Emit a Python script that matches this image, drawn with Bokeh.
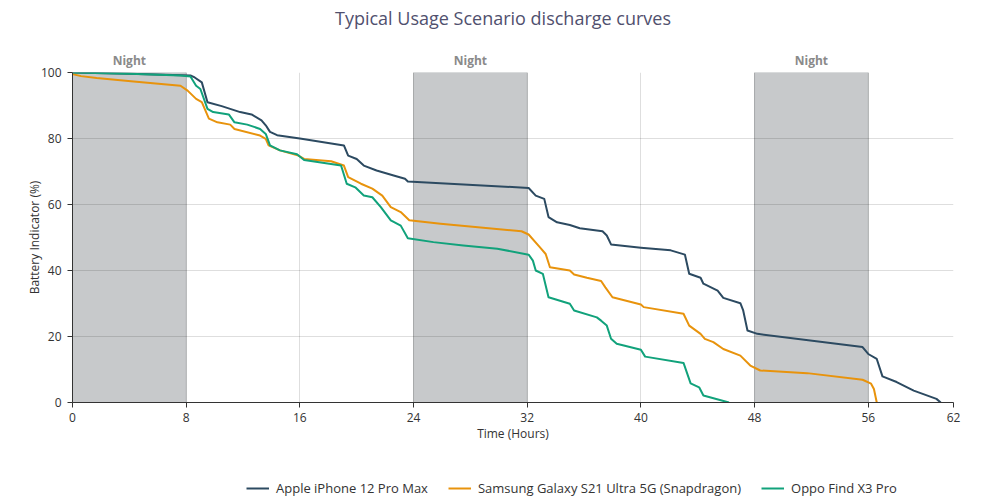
from bokeh.plotting import figure
from bokeh.models import BoxAnnotation, Legend, LegendItem, FixedTicker, Range1d, LinearAxis, Div
from bokeh.layouts import column
from bokeh.embed import file_html
from bokeh.resources import INLINE

# ---- data ----
apple_t = [0, 4, 8.3, 8.6, 9.1, 9.5, 10.5, 11.8, 12.6, 13.3, 13.6, 13.9, 14.4, 16.0, 19.1,
           19.4, 20.0, 20.5, 21.4, 22.6, 23.4, 23.6, 32.1, 32.6, 33.2, 33.5, 34.1, 35.0, 35.7,
           37.3, 37.6, 37.9, 40.0, 42.1, 43.1, 43.4, 44.2, 44.4, 45.4, 45.8, 47.0, 47.2, 47.5,
           48.2, 55.6, 56.0, 56.6, 57.0, 58.0, 59.2, 60.8, 61.1]
apple_v = [100, 99.6, 99.1, 98.5, 97, 91, 89.8, 88, 87.3, 85.5, 84, 82, 81, 80, 77.9,
           74.8, 73.8, 71.8, 70.3, 68.8, 67.8, 67, 65, 62.7, 61.7, 56.2, 54.6, 53.8, 52.8,
           51.9, 50.6, 47.9, 46.9, 46.1, 44.8, 39, 37.8, 36, 33.9, 31.7, 30.1, 27.9, 21.8,
           20.8, 16.8, 14.7, 13.2, 7.9, 6.2, 3.6, 1.1, 0]

samsung_t = [0, 0.6, 1.7, 4.3, 7.6, 8.1, 8.7, 9.1, 9.6, 10.2, 11.1, 11.4, 13.2, 13.6, 13.8,
             14.6, 15.9, 16.3, 18.2, 19.1, 19.4, 20.3, 21.1, 21.8, 22.4, 23.1, 23.7, 25.9, 31.6,
             32.1, 32.9, 33.3, 33.6, 35.0, 35.3, 36.2, 37.2, 37.5, 38.0, 40.0, 40.2, 43.0, 43.4,
             44.2, 44.5, 45.1, 45.8, 47.0, 47.7, 48.4, 51.7, 55.6, 56.2, 56.4, 56.6]
samsung_v = [99.5, 98.9, 98.3, 97.3, 96, 94.5, 92, 91, 86, 84.9, 84.2, 82.9, 80.9, 79.9, 77.9,
             76.4, 74.8, 73.8, 73.1, 71.8, 68.3, 66.3, 64.8, 62.7, 59.2, 57.7, 55.2, 54.2, 51.9,
             50.9, 47, 45, 41, 40, 38.8, 37.8, 36.8, 34.9, 31.9, 29.7, 28.9, 26.9, 23.3,
             20.8, 19.3, 18.3, 16.2, 14.2, 11.2, 9.7, 8.9, 6.9, 5.7, 4.1, 0]

oppo_t = [0, 4, 7.6, 8.3, 8.7, 9.0, 9.5, 9.9, 11.0, 11.4, 12.3, 13.2, 13.6, 13.9, 14.6,
          15.8, 16.3, 18.9, 19.3, 19.9, 20.5, 21.1, 21.7, 22.4, 23.1, 23.6, 25.4, 27.5, 29.9,
          32.1, 32.4, 32.6, 33.1, 33.5, 35.0, 35.3, 36.9, 37.2, 37.6, 37.9, 38.3, 40.0, 40.3,
          43.0, 43.5, 44.1, 44.4, 46.2]
oppo_v = [100, 99.6, 99.1, 98.8, 96, 95, 89, 88, 87.3, 84.9, 84.2, 82.9, 81.4, 77.9, 76.4,
          75.2, 73.5, 71.8, 66.3, 65.2, 62.7, 62.2, 59.2, 55.2, 53.6, 49.8, 48.6, 47.6, 46.6,
          44.8, 43, 40, 39, 31.9, 29.9, 27.9, 25.8, 24.8, 23.3, 19.3, 17.8, 16, 13.9,
          12, 5.8, 4.6, 2.1, 0]

series_names = ["Apple iPhone 12 Pro Max", "Samsung Galaxy S21 Ultra 5G (Snapdragon)", "Oppo Find X3 Pro"]
series_colors = ["#2c4a61", "#e8930c", "#11a27b"]

night_starts = [0, 24, 48]
night_ends = [8, 32, 56]
night_label = "Night"

x_ticks = [0, 8, 16, 24, 32, 40, 48, 56, 62]
y_ticks = [0, 20, 40, 60, 80, 100]

title_text = "Typical Usage Scenario discharge curves"
x_label = "Time (Hours)"
y_label = "Battery Indicator (%)"

FONT = "Open Sans"

title_div = Div(text=title_text, width=996, height=26,
                styles={"font-family": FONT, "font-size": "18px", "color": "#50506e",
                        "text-align": "center", "line-height": "26px", "width": "996px",
                        "white-space": "nowrap"})

p = figure(frame_width=881, frame_height=330, title=None,
           x_range=Range1d(0, 62), y_range=Range1d(0, 100),
           output_backend="svg", toolbar_location=None,
           min_border_left=72, min_border_right=43, min_border_top=36, min_border_bottom=50)

bottom_axis = p.below[0]
left_axis = p.left[0]

p.outline_line_color = None
p.background_fill_color = "white"

# night bands
for s, e in zip(night_starts, night_ends):
    p.add_layout(BoxAnnotation(left=s, right=e, fill_color="#bdbfc2", fill_alpha=0.85,
                               line_color="#a9abae", line_alpha=0.6, line_width=1, level="image"))

# "Night" labels via an axis above the frame
night_mid = [(s + e) / 2 for s, e in zip(night_starts, night_ends)]
top_axis = LinearAxis(ticker=FixedTicker(ticks=night_mid),
                      major_label_overrides={m: night_label for m in night_mid},
                      axis_line_color=None, major_tick_line_color=None,
                      minor_tick_line_color=None, major_tick_out=0, major_tick_in=0,
                      major_label_standoff=4, axis_label_standoff=0,
                      major_label_text_font=FONT, major_label_text_font_size="12px",
                      major_label_text_font_style="bold", major_label_text_color="#8a8a8a")
p.add_layout(top_axis, "above")

# grids
p.xgrid.ticker = FixedTicker(ticks=x_ticks)
p.ygrid.ticker = FixedTicker(ticks=y_ticks)
for g in (p.xgrid, p.ygrid):
    g.grid_line_color = "black"
    g.grid_line_alpha = 0.13
    g.grid_line_width = 1

# axes
bottom_axis.ticker = FixedTicker(ticks=x_ticks)
left_axis.ticker = FixedTicker(ticks=y_ticks)
for ax in (bottom_axis, left_axis):
    ax.axis_line_color = "#333333"
    ax.major_tick_line_color = "#333333"
    ax.major_tick_out = 5
    ax.major_tick_in = 0
    ax.minor_tick_line_color = None
    ax.major_label_text_font = FONT
    ax.major_label_text_font_size = "12px"
    ax.major_label_text_color = "#333333"
    ax.axis_label_text_font = FONT
    ax.axis_label_text_font_size = "12px"
    ax.axis_label_text_font_style = "normal"
    ax.axis_label_text_color = "#333333"
bottom_axis.axis_label = x_label
left_axis.axis_label = y_label
bottom_axis.axis_label_standoff = 0
left_axis.axis_label_standoff = -5
left_axis.major_label_standoff = 6

series_t = [apple_t, samsung_t, oppo_t]
series_v = [apple_v, samsung_v, oppo_v]
for t, v, c in zip(series_t, series_v, series_colors):
    p.line(t, v, line_color=c, line_width=2, line_join="round")

# legend strip below the chart (its lines lie outside the strip's ranges)
leg = figure(width=996, height=48, x_range=Range1d(1000, 1001), y_range=Range1d(1000, 1001),
             x_axis_location=None, y_axis_location=None, title=None,
             output_backend="svg", toolbar_location=None, min_border=0)
leg.outline_line_color = None
leg.grid.visible = False
leg_renderers = []
for t, v, c in zip(series_t, series_v, series_colors):
    leg_renderers.append(leg.line(t, v, line_color=c, line_width=2))

legend = Legend(items=[LegendItem(label=n, renderers=[r]) for n, r in zip(series_names, leg_renderers)],
                orientation="horizontal", location=(174, 3),
                border_line_color=None, background_fill_alpha=0,
                glyph_width=23, glyph_height=10, label_standoff=7, spacing=20,
                label_text_font=FONT, label_text_font_size="13px", label_text_color="#333333",
                margin=0, padding=4)
leg.add_layout(legend, "center")

open("out.html", "w").write(file_html(column(title_div, p, leg, spacing=0), INLINE))
